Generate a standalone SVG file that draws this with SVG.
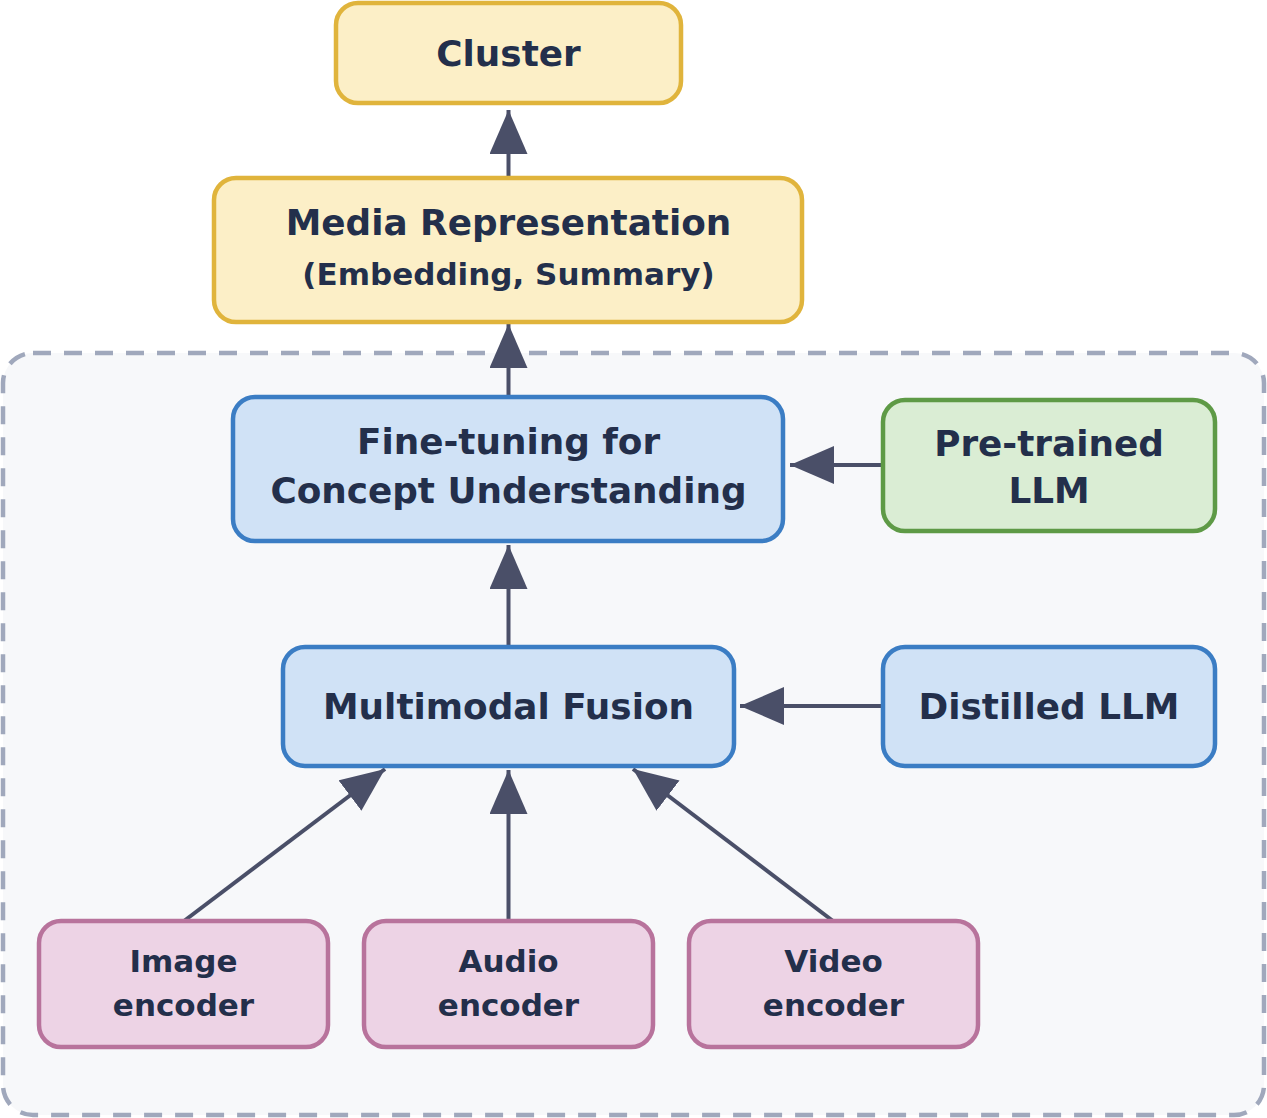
<svg xmlns="http://www.w3.org/2000/svg" width="1267" height="1118" viewBox="0 0 1267 1118">
<style>
  text { font-family: "DejaVu Sans", "Liberation Sans", sans-serif; font-weight: bold; fill: #232F4B; text-anchor: middle; }
  .big { font-size: 35.8px; }
  .small { font-size: 31px; }
  .yellow { fill: #FCEFC7; stroke: #E0B43C; stroke-width: 4.5; }
  .blue { fill: #D0E2F6; stroke: #3B7DC4; stroke-width: 4.5; }
  .green { fill: #DAEDD4; stroke: #5E9A46; stroke-width: 4.5; }
  .pink { fill: #EDD3E5; stroke: #B8739C; stroke-width: 4.5; }
  .edge { stroke: #4A4F68; stroke-width: 4; fill: none; marker-end: url(#arrow); }
</style>
<defs>
  <marker id="arrow" markerUnits="userSpaceOnUse" markerWidth="44" markerHeight="38" refX="44" refY="19" orient="auto" viewBox="0 0 44 38">
    <path d="M0,0 L44,19 L0,38 Z" fill="#4A4F68"/>
  </marker>
</defs>
<rect width="1267" height="1118" fill="#FFFFFF"/>
<g id="container">
  <rect x="3" y="353" width="1261" height="762" rx="30" ry="30" fill="#F7F8FA" stroke="#A0A8BC" stroke-width="4.5" stroke-dasharray="18 13"/>
</g>
<g id="connectors">
  <line class="edge" x1="508.5" y1="178" x2="508.5" y2="110"/>
  <line class="edge" x1="508.5" y1="397" x2="508.5" y2="324"/>
  <line class="edge" x1="508.5" y1="647" x2="508.5" y2="545"/>
  <line class="edge" x1="883" y1="465" x2="790" y2="465"/>
  <line class="edge" x1="883" y1="706" x2="740" y2="706"/>
  <line class="edge" x1="184" y1="921" x2="385" y2="769"/>
  <line class="edge" x1="508.5" y1="921" x2="508.5" y2="770"/>
  <line class="edge" x1="833" y1="921" x2="633" y2="769"/>
</g>
<g id="cluster">
  <rect class="yellow" x="336" y="3" width="345" height="100" rx="22"/>
  <text class="big" x="508.5" y="66">Cluster</text>
</g>
<g id="media-representation">
  <rect class="yellow" x="214" y="178" width="588" height="144" rx="22"/>
  <text class="big" x="508.5" y="235">Media Representation</text>
  <text class="small" x="508.5" y="285">(Embedding, Summary)</text>
</g>
<g id="fine-tuning">
  <rect class="blue" x="233" y="397" width="550" height="144" rx="22"/>
  <text class="big" x="508.5" y="454">Fine-tuning for</text>
  <text class="big" x="508.5" y="503">Concept Understanding</text>
</g>
<g id="pretrained-llm">
  <rect class="green" x="883" y="400" width="332" height="131" rx="22"/>
  <text class="big" x="1049" y="456">Pre-trained</text>
  <text class="big" x="1049" y="503">LLM</text>
</g>
<g id="multimodal-fusion">
  <rect class="blue" x="283" y="647" width="451" height="119" rx="22"/>
  <text class="big" x="508.5" y="719">Multimodal Fusion</text>
</g>
<g id="distilled-llm">
  <rect class="blue" x="883" y="647" width="332" height="119" rx="22"/>
  <text class="big" x="1049" y="719">Distilled LLM</text>
</g>
<g id="image-encoder">
  <rect class="pink" x="39" y="921" width="289" height="126" rx="22"/>
  <text class="small" x="183.5" y="972">Image</text>
  <text class="small" x="183.5" y="1016">encoder</text>
</g>
<g id="audio-encoder">
  <rect class="pink" x="364" y="921" width="289" height="126" rx="22"/>
  <text class="small" x="508.5" y="972">Audio</text>
  <text class="small" x="508.5" y="1016">encoder</text>
</g>
<g id="video-encoder">
  <rect class="pink" x="689" y="921" width="289" height="126" rx="22"/>
  <text class="small" x="833.5" y="972">Video</text>
  <text class="small" x="833.5" y="1016">encoder</text>
</g>
</svg>
